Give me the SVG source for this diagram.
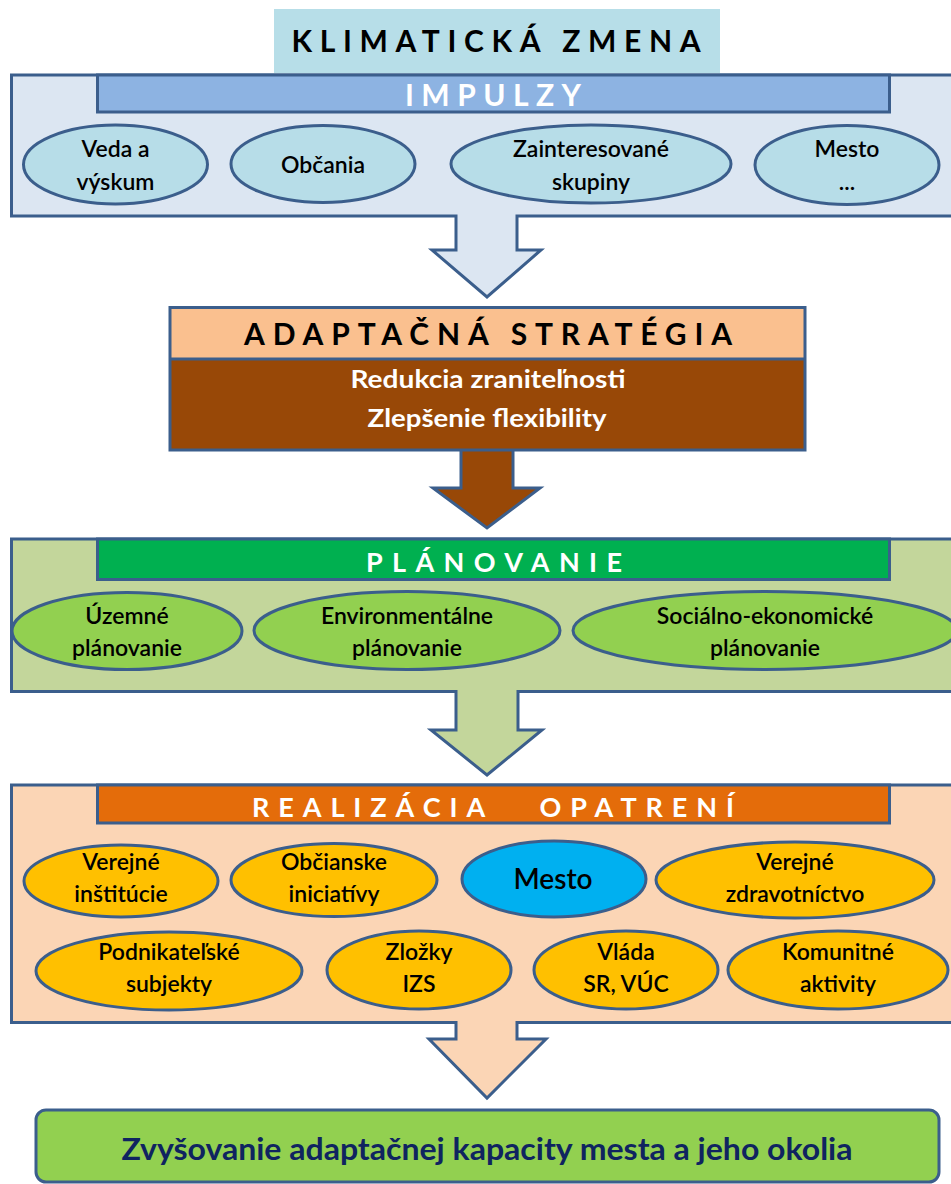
<svg xmlns="http://www.w3.org/2000/svg" width="951" height="1184" viewBox="0 0 951 1184">
<style>
.ln{stroke:#3b5e8c;stroke-width:3;stroke-linejoin:miter}
.t{font-family:Lato,"Liberation Sans",sans-serif;font-size:23px;font-weight:600;fill:#000;text-anchor:middle}
.ttl{font-family:Lato,"Liberation Sans",sans-serif;font-weight:bold;text-anchor:middle}
</style>
<rect width="951" height="1184" fill="#fff"/>
<g id="klimaticka">
<rect x="274" y="9" width="446" height="64" fill="#b7dee8"/>
<text class="ttl" x="496" y="52" font-size="30" fill="#000" textLength="409" lengthAdjust="spacing">KLIMATICKÁ ZMENA</text>
</g>
<g id="connectors">
<path class="ln" d="M11.5,75 H960 V216 H517 V250 H541 L487,297 L432,250 H456 V216 H11.5 Z" fill="#dce6f2"/>
<path class="ln" d="M461,450 V488 H433 L487,528 L540,488 H513 V450" fill="#984807"/>
<path class="ln" d="M11.5,539 H960 V691.5 H518 V730 H542 L487,775 L431,730 H456 V691.5 H11.5 Z" fill="#c3d69b"/>
<path class="ln" d="M11.5,785 H960 V1022.5 H517 V1039 H546 L487,1098 L429,1039 H456 V1022.5 H11.5 Z" fill="#fbd5b5"/>
</g>
<g id="impulzy">
<rect class="ln" x="97.5" y="75" width="792" height="37" fill="#8db3e2"/>
<text class="ttl" x="493" y="106" font-size="30" fill="#fff" textLength="176" lengthAdjust="spacing">IMPULZY</text>
</g>
<g id="veda">
<ellipse class="ln" cx="115.5" cy="164.5" rx="92" ry="39.5" fill="#b7dde8"/>
<text class="t" x="115.5" y="157">Veda a</text><text class="t" x="115.5" y="190">výskum</text>
</g>
<g id="obcania">
<ellipse class="ln" cx="323" cy="164" rx="92" ry="38.5" fill="#b7dde8"/>
<text class="t" x="323" y="173">Občania</text>
</g>
<g id="zainteresovane">
<ellipse class="ln" cx="591" cy="164" rx="140" ry="39" fill="#b7dde8"/>
<text class="t" x="591" y="157">Zainteresované</text><text class="t" x="591" y="190">skupiny</text>
</g>
<g id="mesto1">
<ellipse class="ln" cx="847" cy="165" rx="92" ry="39.5" fill="#b7dde8"/>
<text class="t" x="847" y="157">Mesto</text><text class="t" x="847" y="190">...</text>
</g>
<g id="adaptacna">
<rect x="170" y="307.5" width="635" height="51.5" fill="#fac08f"/>
<rect x="170" y="359" width="635" height="91" fill="#984807"/>
<rect class="ln" x="170" y="307.5" width="635" height="142.5" fill="none"/>
<line class="ln" x1="170" y1="359" x2="805" y2="359"/>
<text class="ttl" x="488" y="345" font-size="30" fill="#000" textLength="488" lengthAdjust="spacing">ADAPTAČNÁ STRATÉGIA</text>
<text class="ttl" x="488" y="388" font-size="25" fill="#fff" textLength="275" lengthAdjust="spacingAndGlyphs">Redukcia zraniteľnosti</text>
<text class="ttl" x="487" y="427" font-size="25" fill="#fff" textLength="239" lengthAdjust="spacingAndGlyphs">Zlepšenie flexibility</text>
</g>
<g id="planovanie">
<rect class="ln" x="97.5" y="539" width="792" height="40.5" fill="#00b050"/>
<text class="ttl" x="494" y="572" font-size="27" fill="#fff" textLength="256" lengthAdjust="spacing">PLÁNOVANIE</text>
</g>
<g id="uzemne">
<ellipse class="ln" cx="127" cy="631" rx="115" ry="38.5" fill="#92d050"/>
<text class="t" x="127" y="624">Územné</text><text class="t" x="127" y="656">plánovanie</text>
</g>
<g id="environmentalne">
<ellipse class="ln" cx="407" cy="630.5" rx="153" ry="39" fill="#92d050"/>
<text class="t" x="407" y="624">Environmentálne</text><text class="t" x="407" y="656">plánovanie</text>
</g>
<g id="socialno">
<ellipse class="ln" cx="765" cy="630.5" rx="192" ry="39" fill="#92d050"/>
<text class="t" x="765" y="624">Sociálno-ekonomické</text><text class="t" x="765" y="656">plánovanie</text>
</g>
<g id="realizacia">
<rect class="ln" x="97.5" y="785" width="792" height="38" fill="#e46c0a"/>
<text class="ttl" x="493" y="817" font-size="27" fill="#fff" textLength="482" lengthAdjust="spacing" xml:space="preserve">REALIZÁCIA   OPATRENÍ</text>
</g>
<g id="verejne-institucie">
<ellipse class="ln" cx="121" cy="881" rx="97" ry="36" fill="#ffc000"/>
<text class="t" x="121" y="870">Verejné</text><text class="t" x="121" y="902">inštitúcie</text>
</g>
<g id="obcianske">
<ellipse class="ln" cx="334" cy="880" rx="103" ry="36.5" fill="#ffc000"/>
<text class="t" x="334" y="870">Občianske</text><text class="t" x="334" y="902">iniciatívy</text>
</g>
<g id="mesto2">
<ellipse class="ln" cx="554" cy="879" rx="92" ry="38" fill="#00b0f0"/>
<text class="t" x="553" y="889" style="font-size:28px">Mesto</text>
</g>
<g id="zdravotnictvo">
<ellipse class="ln" cx="795" cy="880" rx="139" ry="38" fill="#ffc000"/>
<text class="t" x="795" y="870">Verejné</text><text class="t" x="795" y="902">zdravotníctvo</text>
</g>
<g id="podnikatelske">
<ellipse class="ln" cx="169" cy="971" rx="133" ry="39" fill="#ffc000"/>
<text class="t" x="169" y="960">Podnikateľské</text><text class="t" x="169" y="992">subjekty</text>
</g>
<g id="izs">
<ellipse class="ln" cx="419" cy="970" rx="92" ry="39" fill="#ffc000"/>
<text class="t" x="419" y="960">Zložky</text><text class="t" x="419" y="992">IZS</text>
</g>
<g id="vlada">
<ellipse class="ln" cx="626" cy="970" rx="92" ry="39" fill="#ffc000"/>
<text class="t" x="626" y="960">Vláda</text><text class="t" x="626" y="992">SR, VÚC</text>
</g>
<g id="komunitne">
<ellipse class="ln" cx="838" cy="970" rx="110" ry="39" fill="#ffc000"/>
<text class="t" x="838" y="960">Komunitné</text><text class="t" x="838" y="992">aktivity</text>
</g>
<g id="vysledok">
<rect class="ln" x="36" y="1110" width="903" height="72" rx="10" fill="#92d050"/>
<text class="ttl" x="487" y="1160" font-size="30" fill="#0f2460" textLength="731" lengthAdjust="spacingAndGlyphs">Zvyšovanie adaptačnej kapacity mesta a jeho okolia</text>
</g>
</svg>
